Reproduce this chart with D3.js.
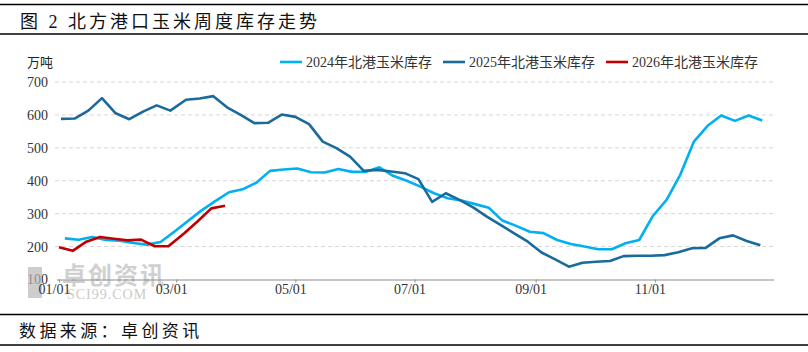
<!DOCTYPE html>
<html>
<head>
<meta charset="utf-8">
<script src="https://cdn.jsdelivr.net/npm/d3@7"></script>
<style>
  body { margin: 0; background: #fff; }
  svg { display: block; font-family: "Liberation Serif", "Noto Sans CJK SC", serif; }
</style>
</head>
<body>
<svg width="808" height="352"></svg>
<script>
// weekly dates (month-day), placed on a shared calendar year
const dates2024 = ["01-04","01-11","01-18","01-25","02-01","02-08","02-15","02-22","02-29","03-07","03-14","03-21","03-28",
  "04-04","04-11","04-18","04-25","05-02","05-09","05-16","05-23","05-30","06-06","06-13","06-20","06-27",
  "07-04","07-11","07-18","07-25","08-01","08-08","08-15","08-22","08-29","09-05","09-12","09-19","09-26",
  "10-03","10-10","10-17","10-24","10-31","11-07","11-14","11-21","11-28","12-05","12-12","12-19","12-26"];
const dates2025 = ["01-02","01-09","01-16","01-23","01-30","02-06","02-13","02-20","02-27","03-06","03-13","03-20","03-27",
  "04-03","04-10","04-17","04-24","05-01","05-08","05-15","05-22","05-29","06-05","06-12","06-19","06-26",
  "07-03","07-10","07-17","07-24","07-31","08-07","08-14","08-21","08-28","09-04","09-11","09-18","09-25",
  "10-02","10-09","10-16","10-23","10-30","11-06","11-13","11-20","11-27","12-04","12-11","12-18","12-25"];
const dates2026 = ["01-01","01-08","01-15","01-22","01-29","02-05","02-12","02-19","02-26","03-05","03-12","03-19","03-26"];

const stock2024 = [225,221,229,220,218,211,206,214,245,278,310,338,365,374,394,430,434,437,426,425,
  436,427,427,441,415,400,382,362,347,340,329,318,279,263,245,241,220,208,200,192,
  192,210,220,293,342,418,519,567,598,582,598,583];
const stock2025 = [588,589,613,651,605,587,610,629,613,646,650,657,623,600,575,576,601,594,572,519,
  499,473,430,433,428,423,405,336,362,342,319,291,266,240,215,182,161,139,151,154,
  156,171,172,172,174,183,195,196,225,234,217,204];
const stock2026 = [198,187,215,229,224,219,221,201,201,240,277,316,324];

const seriesNames = ["2024年北港玉米库存", "2025年北港玉米库存", "2026年北港玉米库存"];
const yTicks = [100, 200, 300, 400, 500, 600, 700];
const xTickLabels = ["01/01", "03/01", "05/01", "07/01", "09/01", "11/01"];

const svg = d3.select("svg");
const parse = d3.timeParse("%Y-%m-%d");
const toDate = md => parse("2024-" + md);

const series = [
  { name: seriesNames[0], color: "#00b0f0", values: stock2024.map((v, i) => ({ d: toDate(dates2024[i]), v })) },
  { name: seriesNames[1], color: "#1a6b9c", values: stock2025.map((v, i) => ({ d: toDate(dates2025[i]), v })) },
  { name: seriesNames[2], color: "#c00000", values: stock2026.map((v, i) => ({ d: toDate(dates2026[i]), v })) }
];

const x = d3.scaleTime()
  .domain([toDate("01-01"), parse("2025-01-01")])
  .range([59, 774]);
const y = d3.scaleLinear().domain([100, 700]).range([279.5, 82]);

// title block
svg.append("line").attr("x1", 0).attr("x2", 808).attr("y1", 4.5).attr("y2", 4.5)
  .attr("stroke", "#000").attr("stroke-width", 1.5);
svg.append("line").attr("x1", 0).attr("x2", 808).attr("y1", 34).attr("y2", 34)
  .attr("stroke", "#000").attr("stroke-width", 1.5);
svg.append("text")
  .attr("x", 20).attr("y", 28)
  .style("font-size", "18px")
  .style("letter-spacing", "3px")
  .attr("fill", "#111")
  .text("图 2 北方港口玉米周度库存走势");

// grid
svg.append("g")
  .selectAll("line")
  .data(yTicks.filter(t => t > 100))
  .join("line")
  .attr("x1", 55).attr("x2", 774)
  .attr("y1", d => y(d)).attr("y2", d => y(d))
  .attr("stroke", "#d6d6d6")
  .attr("stroke-dasharray", "4,3");

// y axis labels
svg.append("g")
  .attr("transform", "translate(48,0)")
  .call(d3.axisLeft(y).tickValues(yTicks).tickSize(0).tickPadding(0))
  .call(g => g.select(".domain").remove())
  .selectAll("text")
  .style("font-family", "Liberation Serif")
  .style("font-size", "14px")
  .attr("fill", "#333");

svg.append("text")
  .attr("x", 27).attr("y", 67)
  .style("font-family", "Noto Sans CJK SC")
  .style("font-size", "13px")
  .attr("fill", "#222")
  .text("万吨");

// watermark
const wm = svg.append("g").attr("opacity", 0.7);
wm.append("rect").attr("x", 28).attr("y", 267).attr("width", 14).attr("height", 31).attr("fill", "#b8b8b8");
wm.append("text").attr("x", 62).attr("y", 284)
  .style("font-family", "Noto Sans CJK SC").style("font-weight", "bold")
  .style("font-size", "24px").style("letter-spacing", "2px")
  .attr("fill", "#bdbdbd").text("卓创资讯");
wm.append("text").attr("x", 67).attr("y", 299)
  .style("font-size", "14px").style("letter-spacing", "1px")
  .attr("fill", "#b5b5b5").text("SCI99.COM");

// x axis
const xTickDates = xTickLabels.map(s => toDate(s.replace("/", "-")));
svg.append("g")
  .attr("transform", "translate(0,279.5)")
  .call(d3.axisBottom(x).tickValues(xTickDates).tickSize(3).tickSizeOuter(0)
    .tickFormat((d, i) => xTickLabels[i]))
  .call(g => g.select(".domain").attr("stroke", "#8c8c8c").attr("d", "M57,0.5H774"))
  .call(g => g.selectAll(".tick line").attr("stroke", "#8c8c8c"))
  .selectAll("text")
  .attr("dx", "-5")
  .attr("dy", "0.6em")
  .style("font-family", "Liberation Serif")
  .style("font-size", "14px")
  .attr("fill", "#333");

// lines
const line = d3.line().x(d => x(d.d)).y(d => y(d.v));
svg.append("g")
  .selectAll("path")
  .data(series)
  .join("path")
  .attr("fill", "none")
  .attr("stroke", d => d.color)
  .attr("stroke-width", 2.6)
  .attr("stroke-linejoin", "round")
  .attr("d", d => line(d.values));

// legend
const legendX = [280, 443, 606];
const legend = svg.append("g").selectAll("g")
  .data(series)
  .join("g")
  .attr("transform", (d, i) => `translate(${legendX[i]},62)`);
legend.append("line").attr("x1", 0).attr("x2", 22)
  .attr("stroke", d => d.color).attr("stroke-width", 2.6);
legend.append("text")
  .attr("x", 26).attr("y", 5)
  .style("font-size", "14px")
  .attr("fill", "#333")
  .text(d => d.name);

// footer
svg.append("line").attr("x1", 0).attr("x2", 808).attr("y1", 314.5).attr("y2", 314.5)
  .attr("stroke", "#000").attr("stroke-width", 1.5);
svg.append("line").attr("x1", 0).attr("x2", 808).attr("y1", 345).attr("y2", 345)
  .attr("stroke", "#000").attr("stroke-width", 1.5);
svg.append("text")
  .attr("x", 19).attr("y", 337)
  .style("font-size", "17px")
  .style("letter-spacing", "3.4px")
  .attr("fill", "#111")
  .text("数据来源：卓创资讯");
</script>
</body>
</html>
